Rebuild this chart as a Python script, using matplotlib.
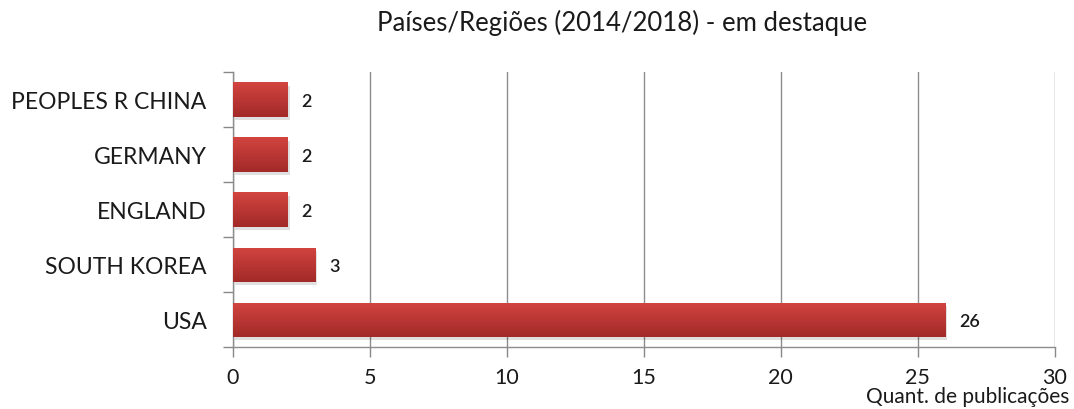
import matplotlib.pyplot as plt
import numpy as np
from matplotlib.patches import Rectangle
from matplotlib.colors import LinearSegmentedColormap

# data
countries = ['USA', 'SOUTH KOREA', 'ENGLAND', 'GERMANY', 'PEOPLES R CHINA']
counts = [26, 3, 2, 2, 2]
x_ticks = [0, 5, 10, 15, 20, 25, 30]

plt.rcParams['font.family'] = ['Lato', 'DejaVu Sans']

fig = plt.figure(figsize=(10.74, 4.10), dpi=100)
ax = fig.add_axes([0.217, 0.151, 0.765, 0.671])

grad = LinearSegmentedColormap.from_list('bar', ['#d24440', '#a22a28'])
bar_h = 0.62
y = np.arange(len(countries))

for yi, v in zip(y, counts):
    # soft shadow
    ax.add_patch(Rectangle((0.08, yi - bar_h / 2 - 0.06), v, bar_h,
                           facecolor='#000000', alpha=0.12, edgecolor='none', zorder=2))
    img = ax.imshow(np.linspace(0, 1, 50).reshape(-1, 1), cmap=grad, aspect='auto',
                    extent=(0, v, yi - bar_h / 2, yi + bar_h / 2), origin='upper', zorder=3)
    rect = Rectangle((0, yi - bar_h / 2), v, bar_h, transform=ax.transData)
    img.set_clip_path(rect)
    ax.text(v + 0.5, yi - 0.02, str(v), va='center', ha='left', fontsize=13,
            color='#1a1a1a', fontweight='semibold', zorder=4)

ax.set_xlim(0, 30)
ax.set_ylim(-0.5, len(countries) - 0.5)
ax.set_xticks(x_ticks)
ax.set_xticklabels([str(t) for t in x_ticks], fontsize=15.5, color='#1a1a1a')
ax.set_yticks(y)
ax.set_yticklabels(countries, fontsize=16.5, color='#1a1a1a')
ax.tick_params(axis='y', length=0, pad=19)
ax.set_yticks(np.arange(-0.5, len(countries), 1), minor=True)
ax.tick_params(axis='y', which='minor', length=7, color='#888888', width=1)
ax.tick_params(axis='x', length=7, color='#888888', width=1, pad=7)

ax.grid(axis='x', color='#8c8c8c', linewidth=1, zorder=1)
ax.set_axisbelow(True)
for s in ['top', 'right']:
    ax.spines[s].set_visible(False)
for s in ['left', 'bottom']:
    ax.spines[s].set_color('#8c8c8c')
    ax.spines[s].set_linewidth(1)

fig.text(0.579, 0.945, 'Países/Regiões (2014/2018) - em destaque', ha='center', va='center',
         fontsize=18.5, color='#1a1a1a')
fig.text(0.996, 0.032, 'Quant. de publicações', ha='right', va='center',
         fontsize=15, color='#1a1a1a')

fig.savefig('out.png', dpi=100)
